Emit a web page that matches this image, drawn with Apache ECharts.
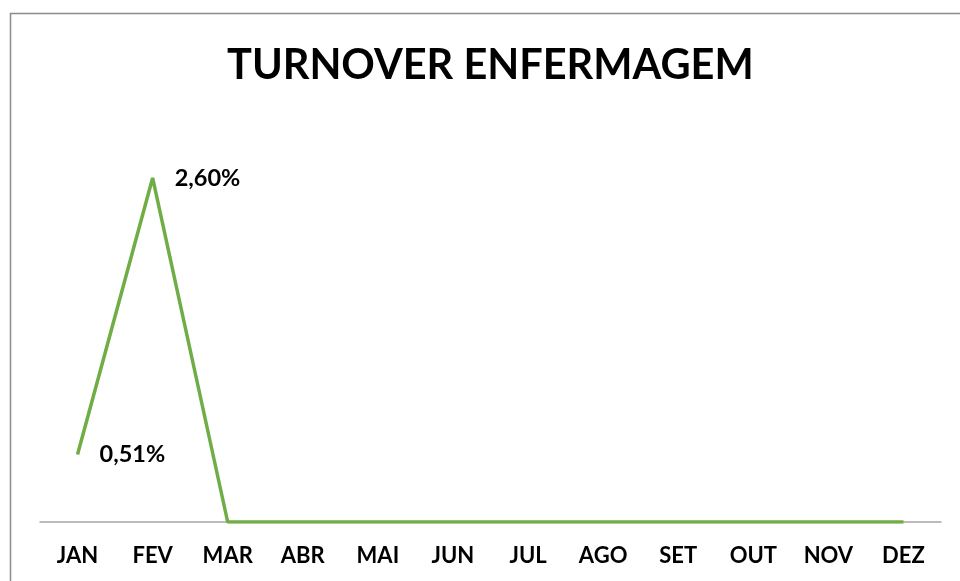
<!DOCTYPE html>
<html><head><meta charset="utf-8">
<script src="https://cdn.jsdelivr.net/npm/echarts@6/dist/echarts.min.js"></script>
<style>html,body{margin:0;padding:0;background:#fff}#c{width:960px;height:581px}</style>
</head><body><div id="c"></div>
<script>
const categories = ['JAN','FEV','MAR','ABR','MAI','JUN','JUL','AGO','SET','OUT','NOV','DEZ'];
const turnover = [0.51, 2.60, 0, 0, 0, 0, 0, 0, 0, 0, 0, 0];
const labelled = [0, 1];
const titleText = 'TURNOVER ENFERMAGEM';

const chart = echarts.init(document.getElementById('c'));
const font = 'Lato, "Open Sans", sans-serif';
chart.setOption({
  animation: false,
  graphic: [{type:'rect', shape:{x:10.5,y:13.5,width:1000,height:1000}, style:{fill:'none', stroke:'#8c8c8c', lineWidth:1.5}}],
  title: {text: titleText, left: 222, top: 40, textStyle:{fontFamily:font, fontWeight:'bold', fontSize:41.5, color:'#000'}},
  grid: {left: 40, right: 19, top: 125, bottom: 59, containLabel:false},
  xAxis: {type:'category', data: categories, boundaryGap:true,
    axisLine:{lineStyle:{color:'#a6a6a6', width:1.5}}, axisTick:{show:false},
    axisLabel:{fontFamily:font, fontWeight:'bold', fontSize:22, color:'#000', margin:23}},
  yAxis: {type:'value', min:0, max:3, show:false, splitLine:{show:false}},
  series: [{type:'line', data: turnover, symbol:'circle', symbolSize:0.1, showSymbol:true,
    itemStyle:{color:'#70ad47', borderWidth:0},
    lineStyle:{color:'#70ad47', width:3.5},
    labelLayout:{hideOverlap:false},
    label:{show:true, position:'right', distance:22, offset:[0,3], fontFamily:font, fontWeight:'bold', fontSize:23.5, color:'#000',
      formatter: p => labelled.includes(p.dataIndex) ? p.value.toFixed(2).replace('.', ',') + '%' : ''}}]
});
</script></body></html>
